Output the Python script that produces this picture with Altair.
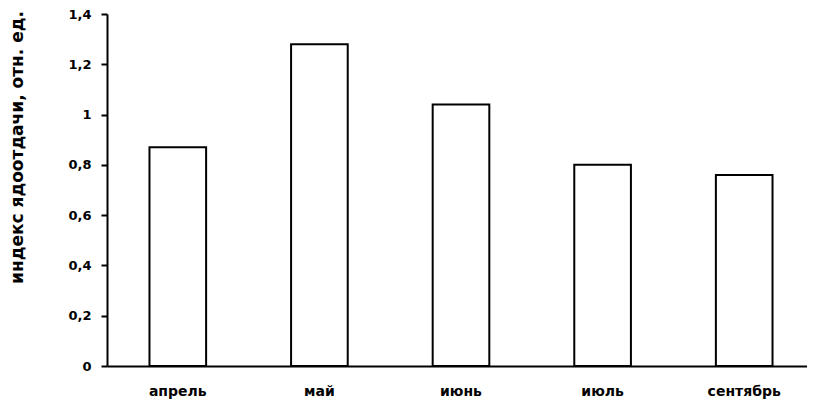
import altair as alt
import pandas as pd

months = ["апрель", "май", "июнь", "июль", "сентябрь"]
values = [0.87, 1.28, 1.04, 0.80, 0.76]
y_ticks = [0, 0.2, 0.4, 0.6, 0.8, 1.0, 1.2, 1.4]

df = pd.DataFrame({"month": months, "value": values})

FONT = "DejaVu Sans"

chart = alt.Chart(df).mark_bar(
    fill="white", stroke="black", strokeWidth=2
).encode(
    x=alt.X(
        "month:N",
        sort=months,
        scale=alt.Scale(paddingInner=0.6, paddingOuter=0.3, range=[0, 708]),
        axis=alt.Axis(
            title=None, labelAngle=0, ticks=False, domain=True,
            domainColor="black", domainWidth=2,
            labelFont=FONT, labelFontSize=14, labelFontWeight="bold",
            labelColor="black", labelPadding=18,
        ),
    ),
    y=alt.Y(
        "value:Q",
        scale=alt.Scale(domain=[0, 1.4], nice=False, zero=True),
        axis=alt.Axis(
            title="индекс ядоотдачи, отн. ед.",
            values=y_ticks,
            labelExpr="replace(format(datum.value, '.1~f'), '.', ',')",
            grid=False, domainColor="black", domainWidth=2,
            tickColor="black", tickWidth=2, tickSize=6,
            labelFont=FONT, labelFontSize=13, labelFontWeight="bold",
            labelColor="black", labelPadding=10,
            titleFont=FONT, titleFontSize=17, titleFontWeight="bold",
            titleColor="black", titleAngle=-90,
            titleX=-85, titleY=133, titleAlign="center",
            titleBaseline="alphabetic",
        ),
    ),
).properties(
    width=700,
    height=352,
    padding={"left": 99, "top": 6, "right": 0, "bottom": 35},
    autosize=alt.AutoSizeParams(type="none"),
).configure(
    background="white",
    view=alt.ViewConfig(stroke=None),
)

chart.save("out.html", embed_options={"renderer": "svg", "actions": False})
